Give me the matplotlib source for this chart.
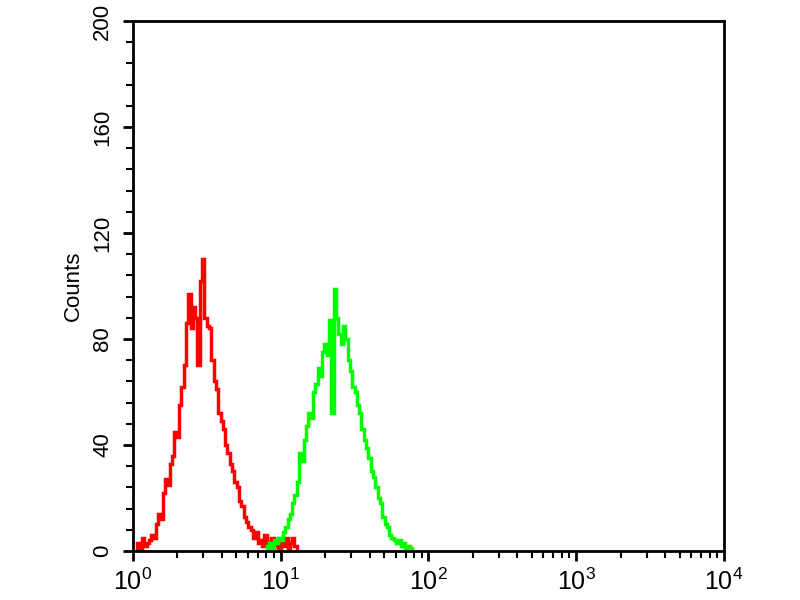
import matplotlib
matplotlib.use("Agg")
import matplotlib.pyplot as plt
import numpy as np
from matplotlib.ticker import MultipleLocator, LogLocator, NullFormatter

# 256 channels over 4 decades -> 64 channels per decade
CH_PER_DECADE = 64

# red histogram (isotype control), counts per channel starting at channel 2
red_start = 2
red_counts = [3, 0, 5, 2, 3, 4, 6, 5, 10, 14, 12, 22, 27, 25, 33, 36, 45, 43,
              55, 62, 70, 86, 97, 84, 92, 88, 70, 102, 110, 88, 85, 84, 72, 64,
              61, 52, 49, 46, 40, 37, 33, 30, 26, 24, 19, 17, 13, 11, 9, 8, 5,
              7, 3, 4, 2, 6, 3, 1, 5, 2, 3, 1, 4, 2, 5, 1, 3, 5, 2]

# green histogram (antibody), counts per channel starting at channel 58
green_start = 58
green_counts = [2, 3, 1, 4, 3, 5, 4, 7, 9, 12, 14, 18, 21, 26, 37, 34, 42, 47,
                52, 50, 60, 63, 69, 66, 75, 78, 74, 87, 52, 99, 88, 82, 78, 85,
                80, 72, 68, 62, 60, 55, 52, 46, 42, 39, 35, 30, 28, 24, 20, 18,
                13, 10, 9, 6, 5, 4, 3, 4, 2, 3, 1, 2, 1]

y_ticks = [0, 40, 80, 120, 160, 200]
x_ticks = [1, 10, 100, 1000, 10000]
x_labels = ["$10^{0}$", "$10^{1}$", "$10^{2}$", "$10^{3}$", "$10^{4}$"]


def edges(start, n):
    ch = np.arange(start, start + n + 1)
    return 10.0 ** (ch / CH_PER_DECADE)


plt.rcParams['font.family'] = ['Liberation Sans', 'DejaVu Sans']
plt.rcParams['mathtext.fontset'] = 'custom'
plt.rcParams['mathtext.rm'] = 'Liberation Sans'

fig = plt.figure(figsize=(8, 6), dpi=100)
ax = fig.add_axes([0.166, 0.0817, 0.739, 0.8833])

ax.stairs(red_counts, edges(red_start, len(red_counts)), color="#ff0000", lw=2.5)
ax.stairs(green_counts, edges(green_start, len(green_counts)), color="#00ff00", lw=2.5)

ax.set_xscale("log")
ax.set_xlim(1, 10000)
ax.set_ylim(0, 200)

ax.set_xticks(x_ticks)
ax.set_xticklabels(x_labels, fontsize=18)
ax.xaxis.set_minor_locator(LogLocator(base=10, subs=np.arange(2, 10)))
ax.xaxis.set_minor_formatter(NullFormatter())

ax.set_yticks(y_ticks)
ax.set_yticklabels([str(v) for v in y_ticks], fontsize=16, rotation=90, va="center")
ax.yaxis.set_minor_locator(MultipleLocator(8))

ax.tick_params(which="major", length=7, width=2, direction="out")
ax.tick_params(which="minor", length=5, width=1.5, direction="out")
ax.tick_params(axis="x", pad=6)
ax.tick_params(axis="y", pad=7)

for s in ax.spines.values():
    s.set_linewidth(2)

ax.set_ylabel("Counts", fontsize=16, labelpad=6)

fig.savefig("out.png", dpi=100)
